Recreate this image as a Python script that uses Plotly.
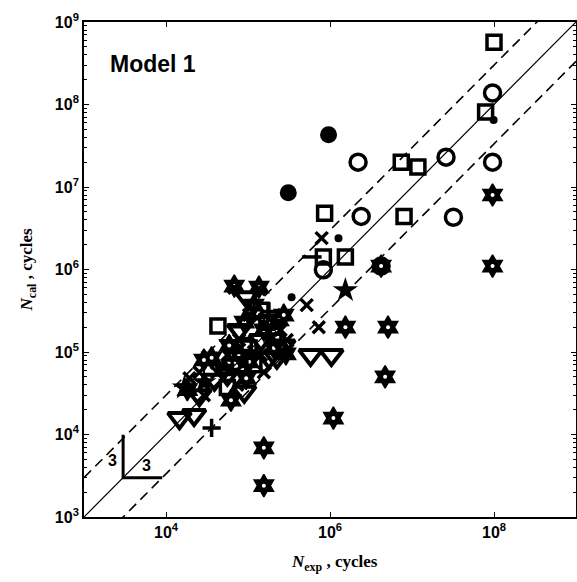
import plotly.graph_objects as go

# ---- data: experimental vs. calculated fatigue life (cycles) ----
sq_exp = [1.0e8, 7.9e7, 7.4e6, 1.18e7, 8.0e6, 8.6e5, 8.3e5, 1.54e6, 4.3e4, 1.7e5, 2.1e5,
          1.03e5, 1.18e5, 5.6e4, 1.44e5, 7.8e4, 2.07e5, 9.0e4]
sq_cal = [5.7e8, 8.1e7, 2.0e7, 1.75e7, 4.4e6, 4.8e6, 1.42e6, 1.42e6, 2.07e5, 2.3e5, 2.0e5,
          1.12e5, 7.0e4, 3.7e4, 3.2e5, 7.0e4, 1.6e5, 1.2e5]

circ_exp = [9.6e7, 9.6e7, 2.6e7, 3.2e7, 2.2e6, 2.4e6, 8.3e5, 4.2e6]
circ_cal = [1.38e8, 2.0e7, 2.3e7, 4.3e6, 2.0e7, 4.4e6, 9.9e5, 1.1e6]

dot_exp = [9.6e5, 3.1e5]
dot_cal = [4.3e7, 8.5e6]

small_exp = [1.27e6, 3.4e5, 9.9e7]
small_cal = [2.4e6, 4.6e5, 6.5e7]

x_exp = [7.9e5, 5.2e5, 7.3e5, 1.29e5, 2.5e5, 7.8e4, 5.6e4, 1.56e5, 2.55e4, 2.9e4, 1.93e4,
         1.03e5, 1.9e5, 1.18e5, 4.2e4, 7.4e4, 6.8e4, 1.36e5, 1.44e5, 2.97e5]
x_cal = [2.4e6, 3.7e5, 2.0e5, 2.6e5, 1.85e5, 1.4e5, 9.2e4, 5.7e4, 5.7e4, 3.0e4, 4.8e4,
         2.8e5, 1.48e5, 1.0e5, 5.7e4, 4.0e4, 6.0e5, 5.8e5, 9.2e4, 1.4e5]

hex_exp = [9.6e7, 9.6e7, 5.1e6, 4.7e6, 1.1e6, 1.56e5, 1.56e5, 1.54e6, 4.2e6,
           6.8e4, 1.36e5, 9.0e4, 2.07e5, 3.6e4, 9.5e4, 1.82e4, 6.2e4, 2.9e5,
           1.18e5, 2.38e5, 1.56e5, 5.1e4, 2.9e4, 7.8e4, 2.73e5, 1.03e5, 5.9e4]
hex_cal = [8.0e6, 1.1e6, 2.0e5, 5.0e4, 1.58e4, 6.9e3, 2.4e3, 2.0e5, 1.1e6,
           6.3e5, 6.1e5, 2.3e5, 1.12e5, 8.5e4, 4.8e4, 3.5e4, 2.6e4, 9.5e4,
           3.7e5, 2.45e5, 1.85e5, 6.05e4, 8.0e4, 9.2e4, 2.8e5, 7.6e4, 1.2e5]

tri_exp = [5.8e5, 1.04e6, 1.46e4, 2.2e4, 9.7e4, 1.44e5, 2.7e5, 6.8e4, 3.9e4, 9.0e4, 1.8e5,
           7.8e4, 2.25e5, 5.6e4, 2.55e4]
tri_cal = [9.2e4, 9.2e4, 1.58e4, 1.72e4, 4.6e5, 1.4e5, 1.2e5, 7.0e4, 4.6e4, 3.3e4, 8.5e4,
           1.85e5, 8.5e4, 5.3e4, 3.0e4]

plus_exp = [3.6e4, 1.8e5]
plus_cal = [1.2e4, 3.1e5]

star_exp = [1.54e6, 1.68e4, 2.9e4]
star_cal = [5.6e5, 3.7e4, 4.3e4]

dash_exp = [6.0e5]
dash_cal = [1.42e6]

# axis decades
y_decades = [3, 4, 5, 6, 7, 8, 9]
x_decades = [4, 6, 8]

# scatter band: perfect agreement and factor-of-3 limits
band_n = [1e3, 1e9]
band_factor = 3.0

fig = go.Figure()

fig.add_trace(go.Scatter(x=band_n, y=band_n, mode="lines",
                         line=dict(color="black", width=1.2), showlegend=False))
fig.add_trace(go.Scatter(x=band_n, y=[v * band_factor for v in band_n], mode="lines",
                         line=dict(color="black", width=1.6, dash="10px,6px"), showlegend=False))
fig.add_trace(go.Scatter(x=band_n, y=[v / band_factor for v in band_n], mode="lines",
                         line=dict(color="black", width=1.6, dash="10px,6px"), showlegend=False))

# factor-of-3 key
key_n = 3e3
fig.add_trace(go.Scatter(x=[key_n, key_n, key_n * band_factor],
                         y=[key_n * band_factor * 1.1, key_n, key_n],
                         mode="lines", line=dict(color="black", width=3), showlegend=False))


def pts(xs, ys, symbol, size, lw=3, color="black"):
    fig.add_trace(go.Scatter(
        x=xs, y=ys, mode="markers", showlegend=False,
        marker=dict(symbol=symbol, size=size, color=color,
                    line=dict(color="black", width=lw))))


# solid six-pointed stars with a small hole in the middle
pts(hex_exp, hex_cal, "hexagram", 17, 1.5)
fig.add_trace(go.Scatter(x=hex_exp, y=hex_cal, mode="markers", showlegend=False,
                         marker=dict(symbol="circle", size=4, color="white", line=dict(width=0))))
pts(tri_exp, tri_cal, "triangle-down-open", 20, 4)
pts(x_exp, x_cal, "x-thin-open", 12, 3.5)
pts(plus_exp, plus_cal, "cross-thin-open", 13, 3.5)
pts(dash_exp, dash_cal, "line-ew-open", 14, 3.5)
pts(sq_exp, sq_cal, "square-open", 14, 3.5)
pts(circ_exp, circ_cal, "circle-open", 16, 3.5)
pts(dot_exp, dot_cal, "circle", 17, 0)
pts(small_exp, small_cal, "circle", 8, 0)
pts(star_exp, star_cal, "star", 19, 0)

tickfont = dict(family="Liberation Sans, Arial, sans-serif", size=16, color="black", weight="bold")


def decade_labels(decs):
    return [f"10<sup>{d}</sup>" for d in decs]


minor_vals = [m * 10 ** k for k in range(3, 9) for m in range(2, 10)]

fig.update_xaxes(type="log", range=[3, 9], tickmode="array",
                 tickvals=[10 ** d for d in x_decades], ticktext=decade_labels(x_decades),
                 ticks="inside", ticklen=5, tickwidth=1.2, tickcolor="black",
                 showline=True, linecolor="black", linewidth=1.8, mirror="ticks",
                 showgrid=False, zeroline=False, tickfont=tickfont, automargin=False)
fig.update_yaxes(type="log", range=[3, 9], tickmode="array",
                 tickvals=[10 ** d for d in y_decades], ticktext=decade_labels(y_decades),
                 ticks="inside", ticklen=5, tickwidth=1.2, tickcolor="black",
                 minor=dict(ticks="inside", ticklen=3, tickwidth=1, tickcolor="black",
                            tickmode="array", tickvals=minor_vals, showgrid=False),
                 showline=True, linecolor="black", linewidth=1.8, mirror="ticks",
                 showgrid=False, zeroline=False, tickfont=tickfont, automargin=False)

serif = dict(family="Liberation Serif, Times New Roman, serif", size=17, color="black")
fig.add_annotation(text="<b><i>N</i><sub>cal</sub> , cycles</b>", textangle=-90,
                   xref="paper", yref="paper", x=-0.114, y=0.5, xanchor="center",
                   yanchor="middle", showarrow=False, font=serif)
fig.add_annotation(text="<b><i>N</i><sub>exp</sub> , cycles</b>",
                   xref="paper", yref="paper", x=0.51, y=-0.093, xanchor="center",
                   yanchor="middle", showarrow=False, font=serif)
fig.add_annotation(text="<b>Model 1</b>", xref="paper", yref="paper", x=0.048, y=0.945,
                   xanchor="left", showarrow=False,
                   font=dict(family="Liberation Sans, Arial, sans-serif", size=23, color="black"))
fig.add_annotation(text="<b>3</b>", x=3.35, y=3.68, xref="x", yref="y", showarrow=False,
                   font=dict(family="Liberation Sans, Arial, sans-serif", size=16, color="black"))
fig.add_annotation(text="<b>3</b>", x=3.76, y=3.62, xref="x", yref="y", showarrow=False,
                   font=dict(family="Liberation Sans, Arial, sans-serif", size=16, color="black"))

fig.update_layout(width=577, height=582,
                  margin=dict(l=84, r=1, t=22, b=65, autoexpand=False),
                  paper_bgcolor="white", plot_bgcolor="white", showlegend=False)

fig.write_html("out.html")
